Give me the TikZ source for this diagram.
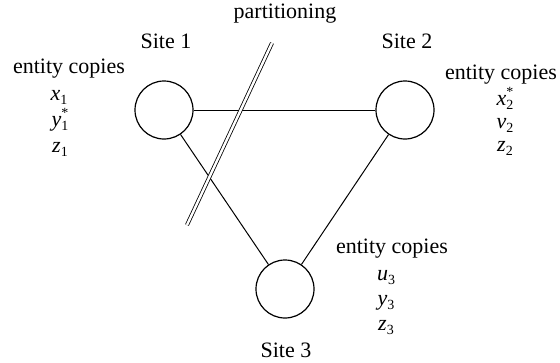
\documentclass[tikz,border=0pt]{standalone}
\usepackage{fontspec}
\setmainfont{Liberation Serif}
% entity copy: italic letter with subscript, optional star stacked above it
\newcommand\subfont{\fontsize{14}{14}\selectfont}
\newcommand\ent[3]{\textit{#1}\raisebox{-4.5pt}{\subfont\setlength\tabcolsep{0pt}%
  \renewcommand\arraystretch{0.85}\begin{tabular}[b]{l}#3\\#2\end{tabular}}}
\begin{document}
\begin{tikzpicture}[x=1pt,y=-1pt,
  every node/.style={font=\fontsize{22}{26}\selectfont, inner sep=0pt},
  site/.style={circle, draw, line width=1.2pt, minimum size=58pt},
  link/.style={line width=1pt},
  cut/.style={double, double distance=2.4pt, line width=0.8pt},
  lbl/.style={anchor=base}]
\useasboundingbox (0,0) rectangle (560,362);

% the three sites
\node[site] (c1) at (164,110) {};
\node[site] (c2) at (405,110) {};
\node[site] (c3) at (285,289) {};

\node[lbl] (s1) at (166,48) {Site 1};
\node[lbl] (s2) at (407,48) {Site 2};
\node[lbl] (s3) at (286,357) {Site 3};

% communication links
\draw[link] (c1) -- (c2);
\draw[link] (c1) -- (c3);
\draw[link] (c2) -- (c3);

% network partition
\coordinate (p1) at (272,43);
\coordinate (p2) at (187,225);
\draw[cut] (p1) -- (p2);
\node[lbl] (pt) at (285,18) {partitioning};

% copies held at site 1
\node[lbl] (e1) at (69,73) {entity copies};
\node[lbl] (x1) at (59,100) {\ent{x}{1}{}};
\node[lbl] (y1) at (60,126) {\ent{y}{1}{*}};
\node[lbl] (z1) at (60,152) {\ent{z}{1}{}};

% copies held at site 2
\node[lbl] (e2) at (501,79) {entity copies};
\node[lbl] (x2) at (505,105) {\ent{x}{2}{*}};
\node[lbl] (v2) at (505,128) {\ent{v}{2}{}};
\node[lbl] (z2) at (505,151) {\ent{z}{2}{}};

% copies held at site 3
\node[lbl] (e3) at (392,253) {entity copies};
\node[lbl] (u3) at (386,280) {\ent{u}{3}{}};
\node[lbl] (y3) at (386,305) {\ent{y}{3}{}};
\node[lbl] (z3) at (386,330) {\ent{z}{3}{}};
\end{tikzpicture}
\end{document}
